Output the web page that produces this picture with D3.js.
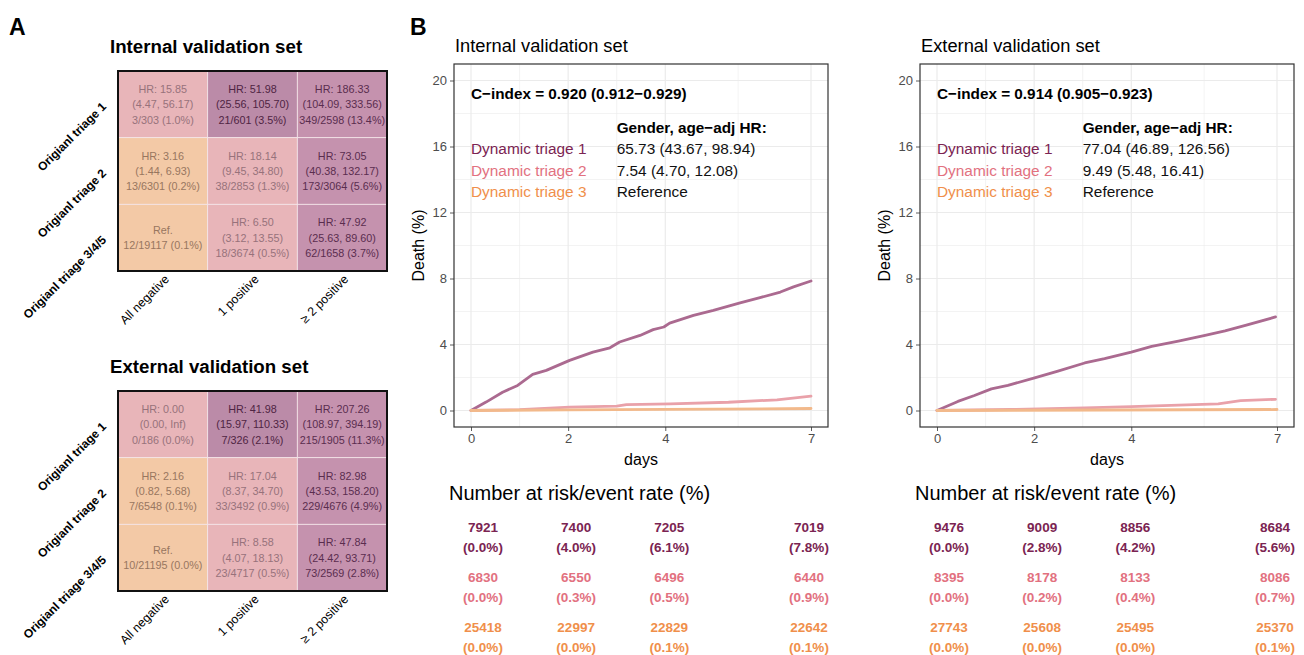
<!DOCTYPE html>
<html>
<head>
<meta charset="utf-8">
<script src="https://cdn.jsdelivr.net/npm/d3@7"></script>
<style>
  body { margin: 0; background: #fff; }
  svg { display: block; font-family: "Liberation Sans", Arial, sans-serif; }
</style>
</head>
<body>
<svg id="fig" width="1304" height="655"></svg>
<script>
"use strict"

// ---- Panel A data ----
const ROW_LABELS = ["Origianl triage 1", "Origianl triage 2", "Origianl triage 3/4/5"];
const COL_LABELS = ["All negative", "1 positive", "\u2265 2 positive"];

// colour group of each cell (dynamic triage; "1d" = the darker purple cell)
const INTERNAL_GROUP = [["2", "1d", "1"], ["3", "2", "1"], ["3", "2", "1"]];
const EXTERNAL_GROUP = [["2", "1d", "1"], ["3", "2", "1"], ["3", "2", "1"]];

const INTERNAL_HR = [["HR: 15.85", "HR: 51.98", "HR: 186.33"],
                     ["HR: 3.16", "HR: 18.14", "HR: 73.05"],
                     ["Ref.", "HR: 6.50", "HR: 47.92"]];
const INTERNAL_CI = [["(4.47, 56.17)", "(25.56, 105.70)", "(104.09, 333.56)"],
                     ["(1.44, 6.93)", "(9.45, 34.80)", "(40.38, 132.17)"],
                     [null, "(3.12, 13.55)", "(25.63, 89.60)"]];
const INTERNAL_N = [["3/303 (1.0%)", "21/601 (3.5%)", "349/2598 (13.4%)"],
                    ["13/6301 (0.2%)", "38/2853 (1.3%)", "173/3064 (5.6%)"],
                    ["12/19117 (0.1%)", "18/3674 (0.5%)", "62/1658 (3.7%)"]];

const EXTERNAL_HR = [["HR: 0.00", "HR: 41.98", "HR: 207.26"],
                     ["HR: 2.16", "HR: 17.04", "HR: 82.98"],
                     ["Ref.", "HR: 8.58", "HR: 47.84"]];
const EXTERNAL_CI = [["(0.00, Inf)", "(15.97, 110.33)", "(108.97, 394.19)"],
                     ["(0.82, 5.68)", "(8.37, 34.70)", "(43.53, 158.20)"],
                     [null, "(4.07, 18.13)", "(24.42, 93.71)"]];
const EXTERNAL_N = [["0/186 (0.0%)", "7/326 (2.1%)", "215/1905 (11.3%)"],
                    ["7/6548 (0.1%)", "33/3492 (0.9%)", "229/4676 (4.9%)"],
                    ["10/21195 (0.0%)", "23/4717 (0.5%)", "73/2569 (2.8%)"]];

// ---- Panel B data: cumulative death (%) by day ----
const SERIES_NAMES = ["Dynamic triage 1", "Dynamic triage 2", "Dynamic triage 3"];

const INTERNAL_T1 = [[0, 0], [0.31, 0.51], [0.65, 1.11], [0.96, 1.52], [1.27, 2.19], [1.55, 2.43],
  [2.03, 3.04], [2.51, 3.54], [2.86, 3.8], [3.06, 4.15], [3.48, 4.55], [3.75, 4.9], [3.97, 5.06],
  [4.09, 5.3], [4.58, 5.77], [4.99, 6.07], [5.54, 6.52], [5.95, 6.84], [6.37, 7.18], [6.64, 7.49], [7.0, 7.85]];
const INTERNAL_T2 = [[0, 0], [1.0, 0.05], [2.03, 0.2], [3.0, 0.27], [3.2, 0.36], [4.1, 0.4],
  [5.3, 0.5], [6.3, 0.65], [7.0, 0.87]];
const INTERNAL_T3 = [[0, 0], [2.0, 0.04], [4.0, 0.07], [7.0, 0.12]];

const EXTERNAL_T1 = [[0, 0], [0.43, 0.55], [0.77, 0.91], [1.12, 1.31], [1.46, 1.52], [2.01, 1.98],
  [2.49, 2.39], [3.04, 2.88], [3.45, 3.14], [4.0, 3.54], [4.42, 3.89], [4.97, 4.21], [5.52, 4.55],
  [5.93, 4.82], [6.35, 5.16], [6.97, 5.67]];
const EXTERNAL_T2 = [[0, 0], [1.5, 0.06], [3.04, 0.16], [4.0, 0.24], [5.79, 0.4], [6.25, 0.6], [6.97, 0.68]];
const EXTERNAL_T3 = [[0, 0], [3.5, 0.03], [7.0, 0.06]];

const INTERNAL_CINDEX = "C\u2212index = 0.920 (0.912\u22120.929)";
const EXTERNAL_CINDEX = "C\u2212index = 0.914 (0.905\u22120.923)";
const INTERNAL_ADJ_HR = ["65.73 (43.67, 98.94)", "7.54 (4.70, 12.08)", "Reference"];
const EXTERNAL_ADJ_HR = ["77.04 (46.89, 126.56)", "9.49 (5.48, 16.41)", "Reference"];

// ---- risk table ----
const RISK_DAYS = [0, 2, 4, 7];
const INTERNAL_RISK_N = [[7921, 7400, 7205, 7019], [6830, 6550, 6496, 6440], [25418, 22997, 22829, 22642]];
const INTERNAL_RISK_PCT = [["0.0", "4.0", "6.1", "7.8"], ["0.0", "0.3", "0.5", "0.9"], ["0.0", "0.0", "0.1", "0.1"]];
const EXTERNAL_RISK_N = [[9476, 9009, 8856, 8684], [8395, 8178, 8133, 8086], [27743, 25608, 25495, 25370]];
const EXTERNAL_RISK_PCT = [["0.0", "2.8", "4.2", "5.6"], ["0.0", "0.2", "0.4", "0.7"], ["0.0", "0.0", "0.0", "0.1"]];

const X_TICKS = [0, 2, 4, 7];
const X_MINOR = [1, 3, 5.5];
const Y_TICKS = [0, 4, 8, 12, 16, 20];
const Y_MINOR = [2, 6, 10, 14, 18];

// ---- styles ----
const CELL_FILL = { "1d": "#bb8ba8", "1": "#c592ae", "2": "#e8b5b9", "3": "#f3c9a6" };
const CELL_TEXT = { "1d": "#4f2443", "1": "#5a2d4e", "2": "#97727b", "3": "#98765f" };
const LINE_COLORS = ["#ab6a90", "#e9a1a9", "#f2b98b"];
const TEXT_COLORS = ["#7b2452", "#e2717f", "#f08f4b"];

const svg = d3.select("#fig");

// panel letters
svg.append("text").text("A").attr("x", 9).attr("y", 35)
  .attr("font-size", 23).attr("font-weight", "bold");
svg.append("text").text("B").attr("x", 410).attr("y", 35)
  .attr("font-size", 23).attr("font-weight", "bold");

function drawHeatmap(title, top, groups, hr, ci, counts) {
  const g = svg.append("g");
  const x = d3.scaleBand(COL_LABELS, [118, 387]);
  const y = d3.scaleBand(ROW_LABELS, [top, top + 200]);

  g.append("text").text(title)
    .attr("x", 110).attr("y", top - 18)
    .attr("font-size", 18.7).attr("font-weight", "bold");

  ROW_LABELS.forEach((r, i) => {
    COL_LABELS.forEach((c, j) => {
      const grp = groups[i][j];
      g.append("rect")
        .attr("x", x(c)).attr("y", y(r))
        .attr("width", x.bandwidth()).attr("height", y.bandwidth())
        .attr("fill", CELL_FILL[grp])
        .attr("stroke", "#f4e6ea").attr("stroke-width", 0.8);
      const lines = [hr[i][j], ci[i][j], counts[i][j]].filter(d => d !== null);
      const cx = x(c) + x.bandwidth() / 2;
      const cy = y(r) + y.bandwidth() / 2;
      lines.forEach((t, k) => {
        g.append("text").text(t)
          .attr("x", cx)
          .attr("y", cy + (k - (lines.length - 1) / 2) * 15.2 + 4)
          .attr("text-anchor", "middle")
          .attr("font-size", 10.8)
          .attr("fill", CELL_TEXT[grp]);
      });
    });
  });

  g.append("rect")
    .attr("x", 118).attr("y", top).attr("width", 269).attr("height", 200)
    .attr("fill", "none").attr("stroke", "#111").attr("stroke-width", 2);

  ROW_LABELS.forEach(r => {
    const cy = y(r) + y.bandwidth() / 2;
    g.append("text").text(r)
      .attr("transform", `translate(107,${cy + 3}) rotate(-45)`)
      .attr("text-anchor", "end")
      .attr("font-size", 12).attr("font-weight", "bold");
  });
  COL_LABELS.forEach(c => {
    const cx = x(c) + x.bandwidth() / 2;
    g.append("text").text(c)
      .attr("transform", `translate(${cx + 7},${top + 200 + 9}) rotate(-45)`)
      .attr("text-anchor", "end")
      .attr("font-size", 12.3);
  });
}

drawHeatmap("Internal validation set", 71, INTERNAL_GROUP, INTERNAL_HR, INTERNAL_CI, INTERNAL_N);
drawHeatmap("External validation set", 391, EXTERNAL_GROUP, EXTERNAL_HR, EXTERNAL_CI, EXTERNAL_N);

function drawCurves(left, title, series, cindex, adjHr, riskN, riskPct) {
  const W = 374, TOP = 64, BOTTOM = 427;
  const x = d3.scaleLinear([-0.35, 7.35], [left, left + W]);
  const y = d3.scaleLinear([-1, 21], [BOTTOM, TOP]);
  const g = svg.append("g");

  g.append("text").text(title).attr("x", left + 1).attr("y", 52).attr("font-size", 18.3);

  // grid
  g.selectAll(".ymin").data(Y_MINOR).join("line")
    .attr("x1", left).attr("x2", left + W).attr("y1", d => y(d)).attr("y2", d => y(d))
    .attr("stroke", "#ebebeb").attr("stroke-width", 0.6);
  g.selectAll(".xmin").data(X_MINOR).join("line")
    .attr("y1", TOP).attr("y2", BOTTOM).attr("x1", d => x(d)).attr("x2", d => x(d))
    .attr("stroke", "#ebebeb").attr("stroke-width", 0.6);
  g.selectAll(".ymaj").data(Y_TICKS).join("line")
    .attr("x1", left).attr("x2", left + W).attr("y1", d => y(d)).attr("y2", d => y(d))
    .attr("stroke", "#ebebeb").attr("stroke-width", 1.2);
  g.selectAll(".xmaj").data(X_TICKS).join("line")
    .attr("y1", TOP).attr("y2", BOTTOM).attr("x1", d => x(d)).attr("x2", d => x(d))
    .attr("stroke", "#ebebeb").attr("stroke-width", 1.2);

  // axes
  const ax = g.append("g").attr("transform", `translate(0,${BOTTOM})`)
    .call(d3.axisBottom(x).tickValues(X_TICKS).tickSize(4).tickPadding(3));
  const ay = g.append("g").attr("transform", `translate(${left},0)`)
    .call(d3.axisLeft(y).tickValues(Y_TICKS).tickSize(4).tickPadding(3));
  [ax, ay].forEach(a => {
    a.select(".domain").remove();
    a.selectAll("line").attr("stroke", "#333").attr("stroke-width", 0.8);
    a.selectAll("text").attr("fill", "#4d4d4d").attr("font-size", 13)
      .attr("font-family", "Liberation Sans, Arial, sans-serif");
  });

  // lines
  const line = d3.line().x(d => x(d[0])).y(d => y(d[1]));
  series.forEach((s, i) => {
    g.append("path").attr("d", line(s))
      .attr("fill", "none").attr("stroke", LINE_COLORS[i])
      .attr("stroke-width", 2.8).attr("stroke-linejoin", "round").attr("stroke-linecap", "round");
  });

  g.append("rect").attr("x", left).attr("y", TOP).attr("width", W).attr("height", BOTTOM - TOP)
    .attr("fill", "none").attr("stroke", "#333").attr("stroke-width", 1.2);

  g.append("text").text("days").attr("x", left + W / 2).attr("y", 465)
    .attr("text-anchor", "middle").attr("font-size", 16);
  g.append("text").text("Death (%)")
    .attr("transform", `translate(${left - 30},${(TOP + BOTTOM) / 2}) rotate(-90)`)
    .attr("text-anchor", "middle").attr("font-size", 16);

  // annotations
  g.append("text").text(cindex).attr("x", x(0)).attr("y", 99)
    .attr("font-size", 15.3).attr("font-weight", "bold");
  g.append("text").text("Gender, age\u2212adj HR:").attr("x", x(3)).attr("y", 133)
    .attr("font-size", 15.3).attr("font-weight", "bold");
  SERIES_NAMES.forEach((n, i) => {
    const yy = 154 + i * 21.5;
    g.append("text").text(n).attr("x", x(0)).attr("y", yy)
      .attr("font-size", 15.4).attr("fill", TEXT_COLORS[i]);
    g.append("text").text(adjHr[i]).attr("x", x(3)).attr("y", yy)
      .attr("font-size", 15.4).attr("fill", "#111");
  });

  // risk table
  const rx = d3.scaleLinear([0, 7], [left + 29, left + 355]);
  g.append("text").text("Number at risk/event rate (%)").attr("x", left - 5).attr("y", 500)
    .attr("font-size", 20);
  riskN.forEach((row, i) => {
    row.forEach((n, j) => {
      g.append("text").text(n).attr("x", rx(RISK_DAYS[j])).attr("y", 532 + i * 50)
        .attr("text-anchor", "middle").attr("font-size", 13.5).attr("font-weight", "bold")
        .attr("fill", TEXT_COLORS[i]);
      g.append("text").text(`(${riskPct[i][j]}%)`).attr("x", rx(RISK_DAYS[j])).attr("y", 552 + i * 50)
        .attr("text-anchor", "middle").attr("font-size", 13.5).attr("font-weight", "bold")
        .attr("fill", TEXT_COLORS[i]);
    });
  });
}

drawCurves(454, "Internal validation set", [INTERNAL_T1, INTERNAL_T2, INTERNAL_T3],
  INTERNAL_CINDEX, INTERNAL_ADJ_HR, INTERNAL_RISK_N, INTERNAL_RISK_PCT);
drawCurves(920, "External validation set", [EXTERNAL_T1, EXTERNAL_T2, EXTERNAL_T3],
  EXTERNAL_CINDEX, EXTERNAL_ADJ_HR, EXTERNAL_RISK_N, EXTERNAL_RISK_PCT);
</script>
</body>
</html>
